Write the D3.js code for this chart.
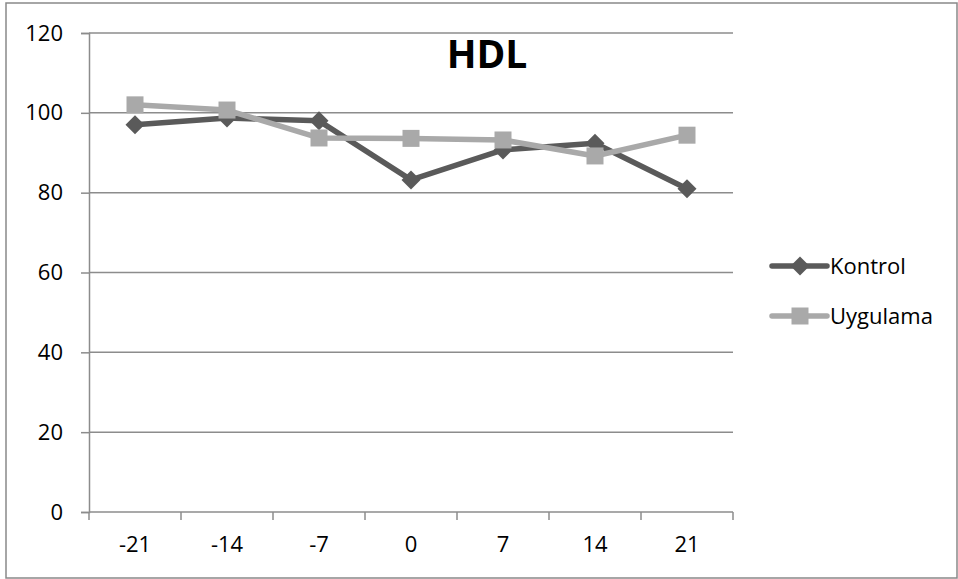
<!DOCTYPE html>
<html><head><meta charset="utf-8">
<script src="https://cdn.jsdelivr.net/npm/d3@7"></script>
<style>body{margin:0;background:#fff}svg{display:block}</style>
</head><body>
<svg id="c" width="958" height="579"></svg>
<script>
const categories = ["-21","-14","-7","0","7","14","21"];
const kontrol = [97, 98.7, 98, 83.2, 90.7, 92.4, 81];
const uygulama = [102, 100.7, 93.7, 93.6, 93.2, 89.2, 94.4];
const yTicks = [0,20,40,60,80,100,120];
const seriesNames = ["Kontrol","Uygulama"];

const svg = d3.select("#c");
const font = "'Open Sans', sans-serif";
const L = 89, R = 733, T = 33, B = 512;

svg.append("rect").attr("x",6).attr("y",3).attr("width",951).attr("height",575)
  .attr("fill","#fff").attr("stroke","#898989").attr("stroke-width",1.5);

const x = d3.scaleBand().domain(categories).range([L,R]);
const y = d3.scaleLinear().domain([0,120]).range([B,T]);

// gridlines
svg.append("g").selectAll("line").data(yTicks.filter(v=>v>0)).join("line")
  .attr("x1",L).attr("x2",R).attr("y1",d=>y(d)).attr("y2",d=>y(d))
  .attr("stroke","#8c8c8c").attr("stroke-width",1.5);

// y axis
const ya = svg.append("g").attr("transform",`translate(${L},0)`)
  .call(d3.axisLeft(y).tickValues(yTicks).tickSize(8).tickPadding(18));
ya.select(".domain").attr("stroke","#8c8c8c").attr("stroke-width",1.5);
ya.selectAll(".tick line").attr("stroke","#8c8c8c").attr("stroke-width",1.5);
ya.selectAll("text").attr("font-family",font).attr("font-size",22).attr("fill","#000");

// x axis
const xa = svg.append("g").attr("transform",`translate(0,${B})`)
  .call(d3.axisBottom(x).tickSize(0).tickPadding(24));
xa.select(".domain").attr("stroke","#8c8c8c").attr("stroke-width",1.5)
  .attr("d",`M${L},0H${R}`);
xa.selectAll("text").attr("font-family",font).attr("font-size",22).attr("fill","#000");
const bounds = categories.map(c=>x(c)).concat([R]);
xa.selectAll(".bt").data(bounds).join("line").attr("class","bt")
  .attr("x1",d=>d).attr("x2",d=>d).attr("y1",0).attr("y2",8)
  .attr("stroke","#8c8c8c").attr("stroke-width",1.5);

const cx = c => x(c) + x.bandwidth()/2;
const line = d3.line().x((d,i)=>cx(categories[i])).y(d=>y(d));

const kColor = "#5a5a5a", uColor = "#a9a9a9";
const diamond = d3.symbol().type(d3.symbolDiamond2).size(230);
const square = d3.symbol().type(d3.symbolSquare).size(289);

svg.append("path").datum(kontrol).attr("d",line).attr("fill","none")
  .attr("stroke",kColor).attr("stroke-width",5.5).attr("stroke-linejoin","round");
svg.append("g").selectAll("path").data(kontrol).join("path")
  .attr("d",diamond).attr("fill",kColor)
  .attr("transform",(d,i)=>`translate(${cx(categories[i])},${y(d)})`);

svg.append("path").datum(uygulama).attr("d",line).attr("fill","none")
  .attr("stroke",uColor).attr("stroke-width",5.5).attr("stroke-linejoin","round");
svg.append("g").selectAll("path").data(uygulama).join("path")
  .attr("d",square).attr("fill",uColor)
  .attr("transform",(d,i)=>`translate(${cx(categories[i])},${y(d)})`);

// title
svg.append("text").attr("x",487).attr("y",68).attr("text-anchor","middle")
  .attr("font-family",font).attr("font-weight","bold").attr("font-size",39)
  .attr("fill","#000").text("HDL");

// legend
const leg = svg.append("g");
const legY = [266, 316];
const symbols = [diamond, square];
const colors = [kColor, uColor];
seriesNames.forEach((n,i)=>{
  leg.append("line").attr("x1",772).attr("x2",827).attr("y1",legY[i]).attr("y2",legY[i])
    .attr("stroke",colors[i]).attr("stroke-width",5.5).attr("stroke-linecap","round");
  leg.append("path").attr("d",symbols[i]).attr("fill",colors[i])
    .attr("transform",`translate(800,${legY[i]})`);
  leg.append("text").attr("x",830).attr("y",legY[i]+8).attr("font-family",font)
    .attr("font-size",22).attr("fill","#000").text(n);
});
</script>
</body></html>
